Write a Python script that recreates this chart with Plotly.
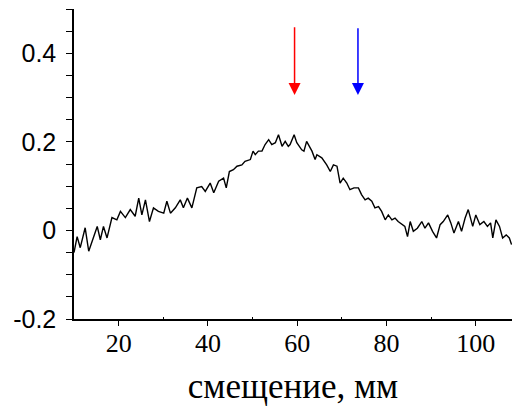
import plotly.graph_objects as go

# displacement (mm) and signal values
x_vals = [10.0, 10.7, 11.4, 12.5, 13.3, 14.0, 15.2, 15.9, 16.6, 17.4, 18.5, 19.6, 20.4, 21.5, 22.6,
          23.7, 24.5, 25.2, 26.0, 26.9, 27.8, 28.9, 30.1, 30.8, 31.6, 32.7, 33.8, 34.5, 35.4, 36.4,
          37.5, 38.6, 39.4, 40.5, 41.3, 42.4, 43.5, 44.1, 44.8, 45.7, 46.5, 47.6, 48.3, 49.5, 50.1,
          50.6, 51.3, 52.1, 52.8, 53.6, 54.3, 55.1, 55.8, 56.6, 57.3, 58.0, 58.4, 59.3, 59.9, 61.0,
          61.5, 62.1, 63.3, 64.0, 64.4, 65.5, 66.6, 67.4, 68.1, 68.9, 69.6, 70.3, 71.1, 71.8, 72.7,
          73.7, 74.4, 75.2, 75.9, 76.7, 77.4, 78.2, 78.9, 79.7, 80.4, 81.2, 81.9, 82.6, 83.4, 84.1,
          84.7, 85.3, 86.0, 86.9, 87.9, 88.6, 89.4, 90.3, 91.2, 92.0, 92.7, 93.7, 94.4, 95.1, 96.1,
          96.8, 97.6, 98.3, 99.3, 100.0, 100.9, 101.8, 102.6, 103.3, 103.8, 104.5, 105.3, 106.0,
          106.8, 107.5, 108.0]
y_vals = [-0.050, -0.014, -0.039, 0.006, -0.047, -0.028, 0.009, -0.021, 0.009, -0.017, 0.029, 0.024,
          0.043, 0.029, 0.047, 0.032, 0.073, 0.035, 0.069, 0.020, 0.051, 0.043, 0.039, 0.066, 0.039,
          0.051, 0.069, 0.051, 0.073, 0.051, 0.096, 0.099, 0.088, 0.107, 0.085, 0.111, 0.118, 0.096,
          0.133, 0.137, 0.145, 0.148, 0.156, 0.160, 0.179, 0.171, 0.179, 0.179, 0.194, 0.205, 0.194,
          0.198, 0.216, 0.190, 0.201, 0.190, 0.194, 0.216, 0.198, 0.182, 0.179, 0.201, 0.179, 0.160,
          0.171, 0.164, 0.148, 0.133, 0.148, 0.145, 0.107, 0.118, 0.107, 0.092, 0.096, 0.096, 0.081,
          0.069, 0.073, 0.066, 0.051, 0.054, 0.043, 0.024, 0.035, 0.024, 0.028, 0.020, 0.013, 0.009,
          -0.014, 0.020, -0.002, 0.005, 0.020, 0.005, 0.017, -0.002, -0.017, 0.013, 0.020, 0.035,
          0.017, -0.006, 0.020, -0.002, 0.028, 0.047, 0.009, 0.035, 0.013, 0.020, 0.009, 0.017,
          -0.017, 0.024, 0.009, -0.017, -0.010, -0.017, -0.032]

# arrow markers: x position, tail y, head y
arrow_x = [59.4, 73.6]
arrow_tail = [0.462, 0.460]
arrow_head = [0.306, 0.306]
arrow_colors = ["#ff0000", "#0000ff"]

y_ticks = [-0.2, -0.15, -0.1, -0.05, 0.0, 0.05, 0.1, 0.15, 0.2, 0.25, 0.3, 0.35, 0.4, 0.45, 0.5]
y_labels = {-0.2: "-0.2", 0.0: "0", 0.2: "0.2", 0.4: "0.4"}
x_ticks = [20, 40, 60, 80, 100]
x_minor = [30, 50, 70, 90]

fig = go.Figure()
fig.add_trace(go.Scatter(x=x_vals, y=y_vals, mode="lines",
                         line=dict(color="black", width=1.4), showlegend=False))

for xa, yt, yh, c in zip(arrow_x, arrow_tail, arrow_head, arrow_colors):
    fig.add_annotation(x=xa, y=yh, ax=xa, ay=yt, axref="x", ayref="y", xref="x", yref="y",
                       text="", showarrow=True, arrowhead=2, arrowsize=1.6, arrowwidth=1.5,
                       arrowcolor=c, standoff=0)

fig.update_layout(
    width=512, height=406,
    margin=dict(l=74, r=0, t=9, b=87, autoexpand=False),
    paper_bgcolor="white", plot_bgcolor="white",
    font=dict(family="Arial", size=25, color="black"),
)
fig.update_xaxes(range=[10, 108.1], tickmode="array", tickvals=x_ticks,
                 ticktext=[str(v) for v in x_ticks],
                 ticks="outside", ticklen=5, tickwidth=1, tickcolor="black",
                 showline=True, linecolor="black", linewidth=1.5, showgrid=False, zeroline=False,
                 tickfont_family="Liberation Serif", tickfont_size=26, tickfont_color="black",
                 ticklabelstandoff=-5,
                 minor=dict(tickvals=x_minor, ticks="inside", ticklen=2, tickcolor="black"),
                 title_text="смещение, мм", title_font_family="Liberation Serif",
                 title_font_size=35, title_standoff=27)
fig.update_yaxes(range=[-0.2, 0.5], tickmode="array", tickvals=y_ticks,
                 ticktext=[y_labels.get(round(v, 2), "") for v in y_ticks],
                 ticks="outside", ticklen=6, tickwidth=1, tickcolor="black",
                 showline=True, linecolor="black", linewidth=1.5, showgrid=False, zeroline=False,
                 tickfont_family="Liberation Sans", tickfont_size=25, tickfont_color="black",
                 ticklabelstandoff=5)

fig.write_html("out.html")
